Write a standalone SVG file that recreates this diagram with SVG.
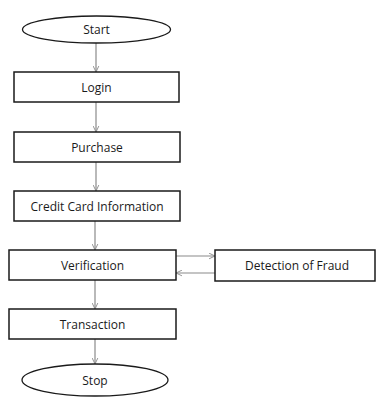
<svg xmlns="http://www.w3.org/2000/svg" width="378" height="400" viewBox="0 0 378 400">
  <defs>
    <marker id="arrow" viewBox="0 0 10 10" refX="9.5" refY="5" markerWidth="7" markerHeight="7" orient="auto" markerUnits="userSpaceOnUse">
      <path d="M1,1 L9.5,5 L1,9" fill="none" stroke="#8a8a8a" stroke-width="1.3"/>
    </marker>
  </defs>
  <style>
    .box { fill: #ffffff; stroke: #1a1a1a; stroke-width: 1.5; }
    .term { fill: #ffffff; stroke: #1a1a1a; stroke-width: 1.3; }
    .label { font-family: "Open Sans", "Liberation Sans", sans-serif; font-size: 12px; fill: #1a1a1a; text-anchor: middle; dominant-baseline: central; }
    .conn { stroke: #8a8a8a; stroke-width: 1.2; fill: none; marker-end: url(#arrow); }
  </style>
  <rect width="378" height="400" fill="#ffffff"/>

  <g id="connectors">
    <line class="conn" x1="96" y1="43" x2="96" y2="72"/>
    <line class="conn" x1="96" y1="102" x2="96" y2="132"/>
    <line class="conn" x1="96" y1="162" x2="96" y2="191"/>
    <line class="conn" x1="95" y1="221" x2="95" y2="250"/>
    <line class="conn" x1="176" y1="256" x2="215" y2="256"/>
    <line class="conn" x1="215" y1="273" x2="176" y2="273"/>
    <line class="conn" x1="95" y1="280" x2="95" y2="309"/>
    <line class="conn" x1="95" y1="339" x2="95" y2="364"/>
  </g>

  <g id="start">
    <ellipse class="term" cx="96.5" cy="29.5" rx="74" ry="13.5"/>
    <text class="label" x="96.5" y="29.5">Start</text>
  </g>
  <g id="login">
    <rect class="box" x="14" y="72" width="165" height="30"/>
    <text class="label" x="96.5" y="87">Login</text>
  </g>
  <g id="purchase">
    <rect class="box" x="14" y="132" width="166" height="30"/>
    <text class="label" x="97" y="147">Purchase</text>
  </g>
  <g id="credit-card">
    <rect class="box" x="14" y="191" width="166" height="30"/>
    <text class="label" x="97" y="206">Credit Card Information</text>
  </g>
  <g id="verification">
    <rect class="box" x="9" y="250" width="167" height="30"/>
    <text class="label" x="92.5" y="265">Verification</text>
  </g>
  <g id="fraud-detection">
    <rect class="box" x="215" y="250" width="160" height="31"/>
    <text class="label" x="297" y="265.5">Detection of Fraud</text>
  </g>
  <g id="transaction">
    <rect class="box" x="9" y="309" width="167" height="30"/>
    <text class="label" x="92.5" y="324">Transaction</text>
  </g>
  <g id="stop">
    <ellipse class="term" cx="95" cy="380" rx="73" ry="16"/>
    <text class="label" x="95" y="380">Stop</text>
  </g>
</svg>
